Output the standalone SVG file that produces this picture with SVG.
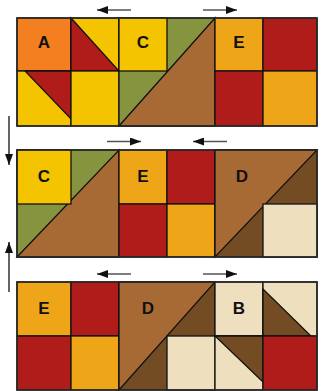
<svg xmlns="http://www.w3.org/2000/svg" width="326" height="391" viewBox="0 0 326 391">
<style>
.p{stroke:#111;stroke-width:1.3;stroke-linejoin:miter}
.o{fill:#F47F20}.y{fill:#F5C400}.r{fill:#B01C1A}.q{fill:#EEA618}
.g{fill:#86943F}.b{fill:#A86A35}.d{fill:#734C24}.c{fill:#EEDFBF}
.f{fill:none;stroke:#2a2a2a;stroke-width:1.6}
.t{font-family:"Liberation Sans",Arial,sans-serif;font-weight:bold;font-size:17px;text-anchor:middle;fill:#111}
.a{stroke:#555;stroke-width:1.5;fill:none;marker-end:url(#h)}
.v{stroke:#111;stroke-width:1.3;fill:none;marker-end:url(#h)}
</style>
<defs>
<marker id="h" markerUnits="userSpaceOnUse" markerWidth="11" markerHeight="8" refX="11" refY="4" orient="auto">
<path d="M0,0 L11,4 L0,8 z" fill="#111"/>
</marker>
</defs>
<rect width="326" height="391" fill="#fff"/>

<g id="strip1-A">
<rect class="p o" x="17" y="18" width="54" height="53"/>
<rect class="p y" x="71" y="18" width="48" height="53"/>
<polygon class="p r" points="71,18 71,71 119,71"/>
<rect class="p y" x="17" y="71" width="54" height="55"/>
<polygon class="p r" points="25,71 71,71 71,119"/>
<rect class="p y" x="71" y="71" width="48" height="55"/>
<text class="t" x="44" y="48">A</text>
</g>
<g id="strip1-C">
<rect class="p g" x="119" y="18" width="96" height="108"/>
<rect class="p y" x="119" y="18" width="48" height="53"/>
<polygon class="p b" points="119,126 215,18 215,126"/>
<text class="t" x="143" y="48">C</text>
</g>
<g id="strip1-E">
<rect class="p q" x="215" y="18" width="48" height="53"/>
<rect class="p r" x="263" y="18" width="54" height="53"/>
<rect class="p r" x="215" y="71" width="48" height="55"/>
<rect class="p q" x="263" y="71" width="54" height="55"/>
<text class="t" x="239" y="48">E</text>
</g>
<rect class="f" x="17" y="18" width="300" height="108"/>

<g id="strip2-C">
<rect class="p g" x="17" y="150" width="102" height="107"/>
<polygon class="p b" points="17,257 119,150 119,257"/>
<rect class="p y" x="17" y="150" width="54" height="54"/>
<text class="t" x="44" y="182">C</text>
</g>
<g id="strip2-E">
<rect class="p q" x="119" y="150" width="48" height="54"/>
<rect class="p r" x="167" y="150" width="48" height="54"/>
<rect class="p r" x="119" y="204" width="48" height="53"/>
<rect class="p q" x="167" y="204" width="48" height="53"/>
<text class="t" x="143" y="182">E</text>
</g>
<g id="strip2-D">
<rect class="p d" x="215" y="150" width="102" height="107"/>
<polygon class="p b" points="215,150 317,150 215,257"/>
<rect class="p c" x="263" y="204" width="54" height="53"/>
<text class="t" x="242" y="182">D</text>
</g>
<rect class="f" x="17" y="150" width="300" height="107"/>

<g id="strip3-E">
<rect class="p q" x="17" y="282" width="54" height="54"/>
<rect class="p r" x="71" y="282" width="48" height="54"/>
<rect class="p r" x="17" y="336" width="54" height="54"/>
<rect class="p q" x="71" y="336" width="48" height="54"/>
<text class="t" x="44" y="314">E</text>
</g>
<g id="strip3-D">
<rect class="p d" x="119" y="282" width="96" height="108"/>
<polygon class="p b" points="119,282 215,282 119,390"/>
<rect class="p c" x="167" y="336" width="48" height="54"/>
<text class="t" x="148" y="314">D</text>
</g>
<g id="strip3-B">
<rect class="p c" x="215" y="282" width="48" height="54"/>
<rect class="p c" x="263" y="282" width="54" height="54"/>
<polygon class="p d" points="263,289 263,336 311,336"/>
<rect class="p c" x="215" y="336" width="48" height="54"/>
<polygon class="p d" points="215,336 263,336 263,382"/>
<rect class="p r" x="263" y="336" width="54" height="54"/>
<text class="t" x="239" y="314">B</text>
</g>
<rect class="f" x="17" y="282" width="300" height="108"/>

<g id="connectors">
<line class="a" x1="131" y1="10" x2="97" y2="10"/>
<line class="a" x1="203" y1="10" x2="237" y2="10"/>
<line class="a" x1="107" y1="141.5" x2="141" y2="141.5"/>
<line class="a" x1="227" y1="141.5" x2="193" y2="141.5"/>
<line class="a" x1="131" y1="274" x2="97" y2="274"/>
<line class="a" x1="203" y1="274" x2="237" y2="274"/>
<line class="v" x1="9" y1="116" x2="9" y2="165"/>
<line class="v" x1="9" y1="292" x2="9" y2="242"/>
</g>
</svg>
